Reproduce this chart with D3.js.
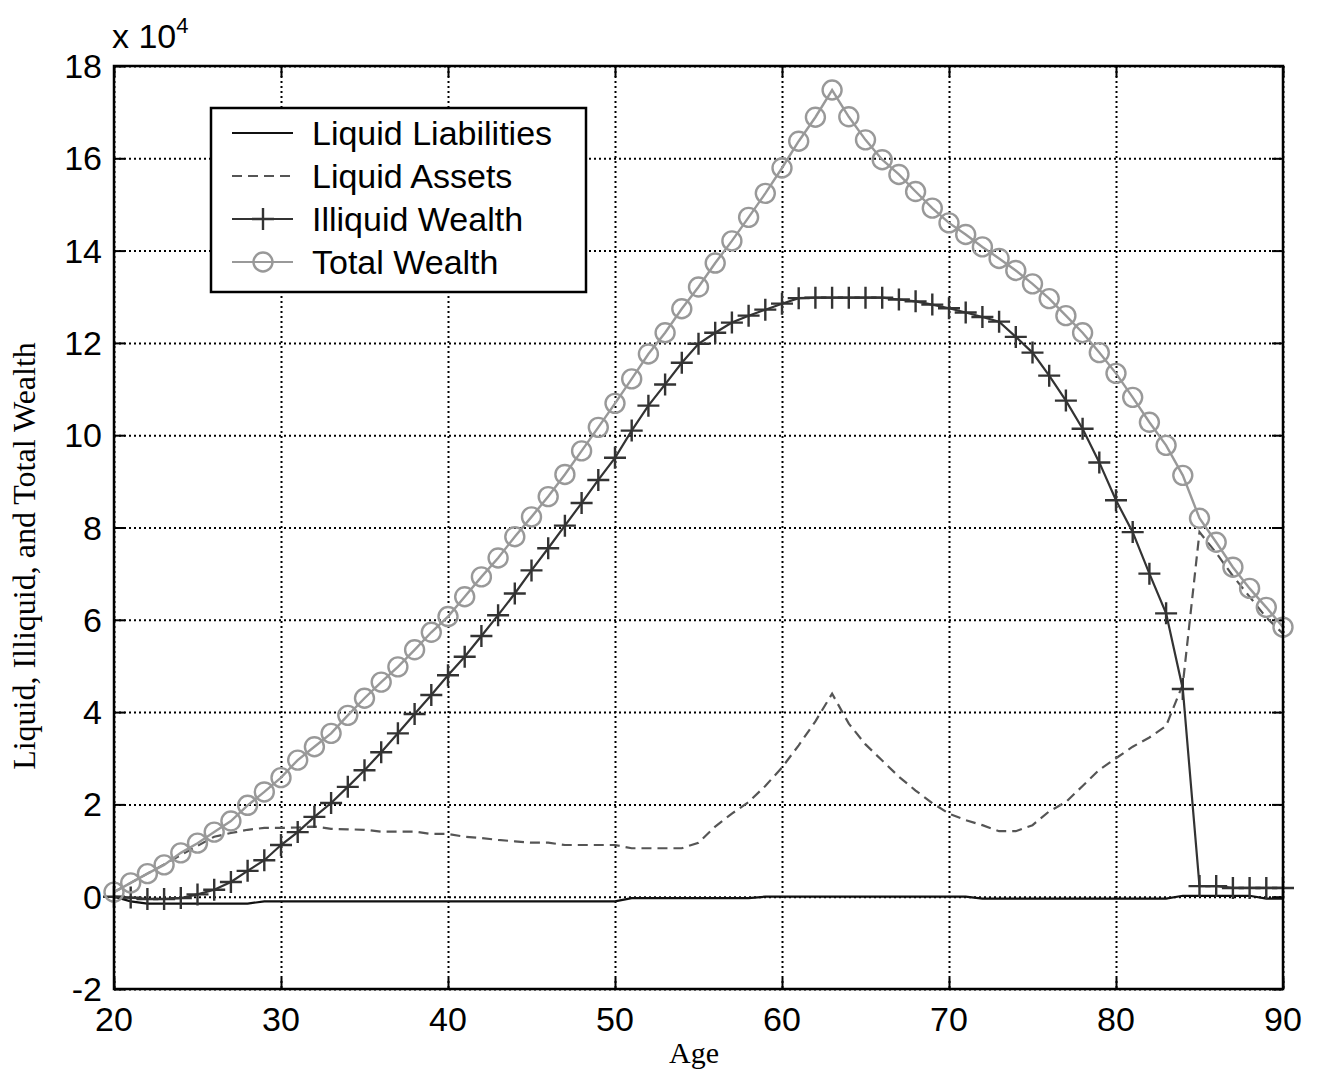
<!DOCTYPE html>
<html>
<head>
<meta charset="utf-8">
<script src="https://cdn.jsdelivr.net/npm/d3@7"></script>
<style>
  body { margin: 0; background: #fff; }
  svg { display: block; }
  .tick-label { font-family: "Liberation Sans", Arial, sans-serif; font-size: 34px; fill: #000; }
</style>
</head>
<body>
<div id="chart"></div>
<script>
/* ages 20..90 */
const ages = d3.range(20, 91);

/* values in units of 10^4 */
const liquidLiabilities = [
  0, -0.1, -0.15, -0.15, -0.15, -0.15, -0.15, -0.15, -0.15, -0.1,
  -0.1, -0.1, -0.1, -0.1, -0.1, -0.1, -0.1, -0.1, -0.1, -0.1,
  -0.1, -0.1, -0.1, -0.1, -0.1, -0.1, -0.1, -0.1, -0.1, -0.1,
  -0.1, -0.03, -0.03, -0.03, -0.03, -0.03, -0.03, -0.03, -0.03, 0,
  0, 0, 0, 0, 0, 0, 0, 0, 0, 0,
  0, 0, -0.04, -0.04, -0.04, -0.04, -0.04, -0.04, -0.04, -0.04,
  -0.04, -0.04, -0.04, -0.04, 0.02, 0.02, 0.02, 0.02, 0.02, -0.04,
  -0.04
];

const liquidAssets = [
  0.1, 0.3, 0.5, 0.7, 0.9, 1.1, 1.3, 1.38, 1.45, 1.49,
  1.49, 1.5, 1.52, 1.47, 1.46, 1.45, 1.41, 1.41, 1.41, 1.36,
  1.36, 1.3, 1.27, 1.23, 1.2, 1.17, 1.17, 1.12, 1.12, 1.12,
  1.12, 1.05, 1.05, 1.05, 1.05, 1.17, 1.52, 1.8, 2.05, 2.4,
  2.8, 3.28, 3.8, 4.4, 3.75, 3.3, 2.95, 2.6, 2.3, 2.03,
  1.8, 1.66, 1.55, 1.42, 1.42, 1.55, 1.85, 2.05, 2.4, 2.75,
  3.0, 3.25, 3.45, 3.7, 4.6, 7.9, 7.45, 6.95, 6.5, 6.05,
  5.7
];

const illiquidWealth = [
  0, -0.02, -0.05, -0.05, -0.03, 0.05, 0.15, 0.32, 0.56, 0.79,
  1.12, 1.4, 1.73, 2.03, 2.38, 2.74, 3.13, 3.54, 3.96, 4.37,
  4.8, 5.2, 5.65, 6.1, 6.57, 7.07, 7.55, 8.04, 8.53, 9.03,
  9.51, 10.1, 10.64, 11.1, 11.57, 11.98, 12.22, 12.44, 12.59, 12.72,
  12.85, 12.97, 12.98, 12.98, 12.98, 12.98, 12.98, 12.94, 12.9, 12.83,
  12.75, 12.66, 12.56, 12.46, 12.13, 11.79, 11.29, 10.75, 10.14, 9.41,
  8.59, 7.9, 7.0, 6.14, 4.5, 0.23, 0.23, 0.19, 0.19, 0.19,
  0.19
];

const totalWealth = [
  0.1, 0.3, 0.5, 0.69, 0.95, 1.16, 1.4, 1.64, 1.98, 2.27,
  2.58, 2.96, 3.25, 3.54, 3.93, 4.3, 4.65, 4.98, 5.35, 5.73,
  6.07, 6.5, 6.93, 7.34, 7.8, 8.23, 8.67, 9.15, 9.66, 10.17,
  10.69, 11.22, 11.76, 12.22, 12.74, 13.21, 13.73, 14.21, 14.72, 15.24,
  15.79, 16.37, 16.89, 17.48, 16.9, 16.4, 15.97, 15.65, 15.28, 14.92,
  14.6, 14.35, 14.08, 13.83, 13.57, 13.28, 12.96, 12.59, 12.22, 11.79,
  11.34, 10.82, 10.28, 9.78, 9.13, 8.2, 7.68, 7.14, 6.68, 6.27,
  5.84
];

const xTicks = [20, 30, 40, 50, 60, 70, 80, 90];
const yTicks = [-2, 0, 2, 4, 6, 8, 10, 12, 14, 16, 18];
const legendLabels = ['Liquid Liabilities', 'Liquid Assets', 'Illiquid Wealth', 'Total Wealth'];

const width = 1320, height = 1074;
const margin = { top: 66, right: 37, bottom: 85, left: 114 };
const innerW = width - margin.left - margin.right;
const innerH = height - margin.top - margin.bottom;

const svg = d3.select('#chart').append('svg')
  .attr('width', width)
  .attr('height', height);

const g = svg.append('g').attr('transform', `translate(${margin.left},${margin.top})`);

const xScale = d3.scaleLinear().domain([20, 90]).range([0, innerW]);
const yScale = d3.scaleLinear().domain([-2, 18]).range([innerH, 0]);

/* gridlines */
g.append('g')
  .call(d3.axisBottom(xScale).tickValues(xTicks).tickSize(innerH).tickFormat(''))
  .call(s => s.select('.domain').remove())
  .selectAll('line')
  .attr('stroke', '#000').attr('stroke-width', 2).attr('stroke-dasharray', '2,3');

g.append('g')
  .call(d3.axisLeft(yScale).tickValues(yTicks).tickSize(-innerW).tickFormat(''))
  .call(s => s.select('.domain').remove())
  .selectAll('line')
  .attr('stroke', '#000').attr('stroke-width', 2).attr('stroke-dasharray', '2,3');

/* inside ticks on all four sides */
const tickLen = 11;
g.append('g').attr('transform', `translate(0,${innerH})`)
  .call(d3.axisBottom(xScale).tickValues(xTicks).tickSizeInner(-tickLen).tickSizeOuter(0).tickFormat(''))
  .call(s => s.select('.domain').remove())
  .selectAll('line').attr('stroke', '#000').attr('stroke-width', 2);
g.append('g')
  .call(d3.axisTop(xScale).tickValues(xTicks).tickSizeInner(-tickLen).tickSizeOuter(0).tickFormat(''))
  .call(s => s.select('.domain').remove())
  .selectAll('line').attr('stroke', '#000').attr('stroke-width', 2);
g.append('g')
  .call(d3.axisLeft(yScale).tickValues(yTicks).tickSizeInner(-tickLen).tickSizeOuter(0).tickFormat(''))
  .call(s => s.select('.domain').remove())
  .selectAll('line').attr('stroke', '#000').attr('stroke-width', 2);
g.append('g').attr('transform', `translate(${innerW},0)`)
  .call(d3.axisRight(yScale).tickValues(yTicks).tickSizeInner(-tickLen).tickSizeOuter(0).tickFormat(''))
  .call(s => s.select('.domain').remove())
  .selectAll('line').attr('stroke', '#000').attr('stroke-width', 2);

/* tick labels */
g.selectAll('.xlab').data(xTicks).enter().append('text')
  .attr('class', 'tick-label')
  .attr('x', d => xScale(d))
  .attr('y', innerH + 42)
  .attr('text-anchor', 'middle')
  .text(d => d);

g.selectAll('.ylab').data(yTicks).enter().append('text')
  .attr('class', 'tick-label')
  .attr('x', -12)
  .attr('y', d => yScale(d) + 12)
  .attr('text-anchor', 'end')
  .text(d => d);

/* x 10^4 */
const expText = svg.append('text')
  .attr('class', 'tick-label')
  .attr('x', 112)
  .attr('y', 48);
expText.append('tspan').text('x 10');
expText.append('tspan').attr('dy', -15).attr('font-size', 22).text('4');

/* axis titles */
svg.append('text')
  .attr('x', 694)
  .attr('y', 1063)
  .attr('text-anchor', 'middle')
  .style('font-family', '"Liberation Serif", "Times New Roman", serif')
  .style('font-size', '30px')
  .text('Age');

svg.append('text')
  .attr('transform', 'translate(35,556) rotate(-90)')
  .attr('text-anchor', 'middle')
  .style('font-family', '"Liberation Serif", "Times New Roman", serif')
  .style('font-size', '32px')
  .text('Liquid, Illiquid, and Total Wealth');

/* lines */
const line = d3.line()
  .x((d, i) => xScale(ages[i]))
  .y(d => yScale(d));

g.append('path').datum(liquidLiabilities)
  .attr('fill', 'none').attr('stroke', '#111').attr('stroke-width', 2.2)
  .attr('d', line);

g.append('path').datum(liquidAssets)
  .attr('fill', 'none').attr('stroke', '#555').attr('stroke-width', 2.2)
  .attr('stroke-dasharray', '10,6')
  .attr('d', line);

g.append('path').datum(illiquidWealth)
  .attr('fill', 'none').attr('stroke', '#333').attr('stroke-width', 2.2)
  .attr('d', line);

const plusSize = 11;
g.append('g').selectAll('path').data(illiquidWealth).enter().append('path')
  .attr('d', (d, i) => {
    const cx = xScale(ages[i]), cy = yScale(d);
    return `M${cx - plusSize},${cy}H${cx + plusSize}M${cx},${cy - plusSize}V${cy + plusSize}`;
  })
  .attr('stroke', '#333').attr('stroke-width', 2.4).attr('fill', 'none');

g.append('path').datum(totalWealth)
  .attr('fill', 'none').attr('stroke', '#999').attr('stroke-width', 2.4)
  .attr('d', line);

g.append('g').selectAll('circle').data(totalWealth).enter().append('circle')
  .attr('cx', (d, i) => xScale(ages[i]))
  .attr('cy', d => yScale(d))
  .attr('r', 9.5)
  .attr('fill', 'none').attr('stroke', '#999').attr('stroke-width', 2.4);

/* axes box */
g.append('rect')
  .attr('width', innerW).attr('height', innerH)
  .attr('fill', 'none').attr('stroke', '#000').attr('stroke-width', 2.5);

/* legend */
const legend = svg.append('g').attr('transform', 'translate(211,108)');
legend.append('rect')
  .attr('width', 375).attr('height', 184)
  .attr('fill', '#fff').attr('stroke', '#000').attr('stroke-width', 2.5);

const legStyles = [
  { stroke: '#111', dash: null, marker: null },
  { stroke: '#555', dash: '10,6', marker: null },
  { stroke: '#333', dash: null, marker: 'plus' },
  { stroke: '#999', dash: null, marker: 'circle' }
];

legendLabels.forEach((lab, i) => {
  const cy = 25 + i * 43;
  const row = legend.append('g');
  row.append('line')
    .attr('x1', 21).attr('x2', 82).attr('y1', cy).attr('y2', cy)
    .attr('stroke', legStyles[i].stroke).attr('stroke-width', 2.2)
    .attr('stroke-dasharray', legStyles[i].dash);
  if (legStyles[i].marker === 'plus') {
    row.append('path')
      .attr('d', `M${52 - plusSize},${cy}H${52 + plusSize}M52,${cy - plusSize}V${cy + plusSize}`)
      .attr('stroke', legStyles[i].stroke).attr('stroke-width', 2.4);
  }
  if (legStyles[i].marker === 'circle') {
    row.append('circle')
      .attr('cx', 52).attr('cy', cy).attr('r', 9.5)
      .attr('fill', 'none').attr('stroke', legStyles[i].stroke).attr('stroke-width', 2.4);
  }
  row.append('text')
    .attr('class', 'tick-label')
    .attr('x', 101).attr('y', cy + 12)
    .text(lab);
});
</script>
</body>
</html>
